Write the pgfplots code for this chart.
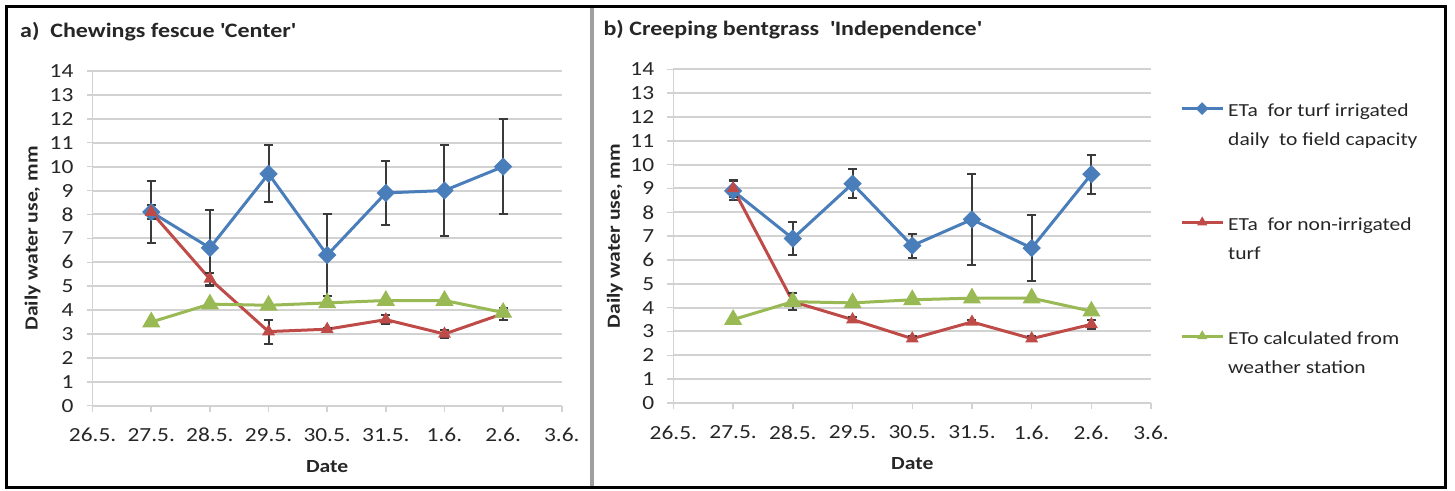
\documentclass[border=0pt]{standalone}
\usepackage{fontspec}
\setmainfont{Carlito}[FakeStretch=1.17]
\usepackage{pgfplots}
\usepackage{pgfplotstable}
\pgfplotsset{compat=1.18}

\definecolor{ser1}{HTML}{4A7EBB}
\definecolor{ser2}{HTML}{BE4B48}
\definecolor{ser3}{HTML}{98B954}
\definecolor{gridc}{HTML}{D2D2D2}
\definecolor{errc}{HTML}{3A3A3A}
\definecolor{txt}{HTML}{262626}

% x: 0 = 26.5., 1 = 27.5., ... 7 = 2.6., 8 = 3.6.
\pgfplotstableread{
x y e
1 8.1 1.3
2 6.6 1.6
3 9.7 1.2
4 6.3 1.7
5 8.9 1.35
6 9.0 1.9
7 10.0 2.0
}\irrA
\pgfplotstableread{
x y e
1 8.1 0.3
2 5.3 0.25
3 3.1 0.5
4 3.2 0.05
5 3.6 0.2
6 3.0 0.15
7 3.85 0.25
}\nonA
\pgfplotstableread{
x y
1 3.5
2 4.25
3 4.2
4 4.3
5 4.4
6 4.4
7 3.9
}\etoA
\pgfplotstableread{
x y e
1 8.9 0.4
2 6.9 0.68
3 9.2 0.62
4 6.6 0.5
5 7.7 1.9
6 6.5 1.4
7 9.6 0.82
}\irrB
\pgfplotstableread{
x y e
1 9.0 0.35
2 4.25 0.35
3 3.5 0.1
4 2.7 0.1
5 3.4 0.1
6 2.7 0.1
7 3.3 0.2
}\nonB
\pgfplotstableread{
x y
1 3.5
2 4.25
3 4.2
4 4.33
5 4.4
6 4.4
7 3.85
}\etoB

\pgfplotsset{
  panel/.style={
    scale only axis, anchor=south west, clip=false,
    xmin=0, xmax=8, ymin=0, ymax=14,
    xtick={0,...,8},
    xticklabels={26.5.,27.5.,28.5.,29.5.,30.5.,31.5.,1.6.,2.6.,3.6.},
    ytick={0,...,14},
    axis x line*=bottom, axis y line*=left,
    axis line style={draw=gridc, line width=1.5pt, -},
    ymajorgrids, grid style={draw=gridc, line width=2pt},
    tick align=outside, major tick length=6pt,
    tick style={draw=gridc, line width=1.5pt},
    ticklabel style={font=\fontsize{20}{23}\selectfont, text=txt},
    /pgf/number format/assume math mode=true,
    xticklabel style={anchor=center, yshift=-23.5pt},
    yticklabel style={anchor=east, inner sep=0pt, xshift=-13pt},
    label style={font=\fontsize{18.5}{22}\selectfont\bfseries, text=txt},
    xlabel={Date}, ylabel={Daily water use, mm},
    xlabel style={at={(rel axis cs:0.5,-0.182)}, anchor=center},
  },
  irr/.style={ser1, line width=3pt, mark=square*, mark size=5pt,
    mark options={rotate=45, solid}},
  non/.style={ser2, line width=3pt, mark=triangle*, mark size=4.5pt,
    mark options={solid}},
  eto/.style={ser3, line width=3pt, mark=triangle*, mark size=7.5pt,
    mark options={solid}},
  errs/.style={error bars/.cd, y dir=both, y explicit,
    error bar style={line width=2pt, draw=errc},
    error mark options={rotate=90, mark size=4.5pt, line width=2pt, draw=errc}},
}

\begin{document}
\begin{tikzpicture}[x=1pt, y=1pt]
\useasboundingbox (0,0) rectangle (1455,490);

% left panel
\begin{axis}[panel, at={(92.6pt,84.3pt)}, width=469.2pt, height=334.7pt,
  ylabel style={at={(rel axis cs:-0.128,0.5)}, anchor=center}]
\addplot[irr, errs] table[x=x, y=y, y error=e] {\irrA};
\addplot[non, errs] table[x=x, y=y, y error=e] {\nonA};
\addplot[eto] table[x=x, y=y] {\etoA};
\end{axis}

% right panel
\begin{axis}[panel, at={(673.4pt,87pt)}, width=477.7pt, height=333.7pt,
  ylabel style={at={(rel axis cs:-0.1225,0.5)}, anchor=center},
  legend style={draw=none, fill=none, inner sep=0pt,
    at={(1.0605,0.92)}, anchor=north west,
    font=\fontsize{18.4}{29}\selectfont, text=txt,
    nodes={inner sep=0pt}, row sep=79pt,
    /tikz/every odd column/.append style={column sep=4pt}},
  legend cell align=left,
  legend image code/.code={
    \path (0pt,-13pt) (41pt,13pt);
    \draw[mark repeat=2, mark phase=2, #1, mark size=3pt]
      plot coordinates {(0pt,5pt) (20.5pt,5pt) (41pt,5pt)};
  }]
\addplot[irr, errs] table[x=x, y=y, y error=e] {\irrB};
\addlegendentry{\begin{tabular}{@{}l@{}}ETa\ \ for turf irrigated\\daily\ \ to field capacity\end{tabular}}
\addplot[non, errs] table[x=x, y=y, y error=e] {\nonB};
\addlegendentry{\begin{tabular}{@{}l@{}}ETa\ \ for non-irrigated\\turf\end{tabular}}
\addplot[eto] table[x=x, y=y] {\etoB};
\addlegendentry{\begin{tabular}{@{}l@{}}ETo calculated from\\weather station\end{tabular}}
\end{axis}

% panel titles
\node[anchor=west, inner sep=0pt, text=txt, font=\fontsize{20.5}{24}\selectfont\bfseries]
  at (20,458.3) {a)\ \ Chewings fescue \textquotesingle Center\textquotesingle};
\node[anchor=west, inner sep=0pt, text=txt, font=\fontsize{20.5}{24}\selectfont\bfseries]
  at (603.4,460) {b) Creeping bentgrass\ \ \textquotesingle Independence\textquotesingle};

% frames
\draw[line width=4pt, draw=gray!75] (592,3) -- (592,484);
\draw[line width=3pt, black] (6.5,2.5) rectangle (1445.5,483.5);
\end{tikzpicture}
\end{document}
